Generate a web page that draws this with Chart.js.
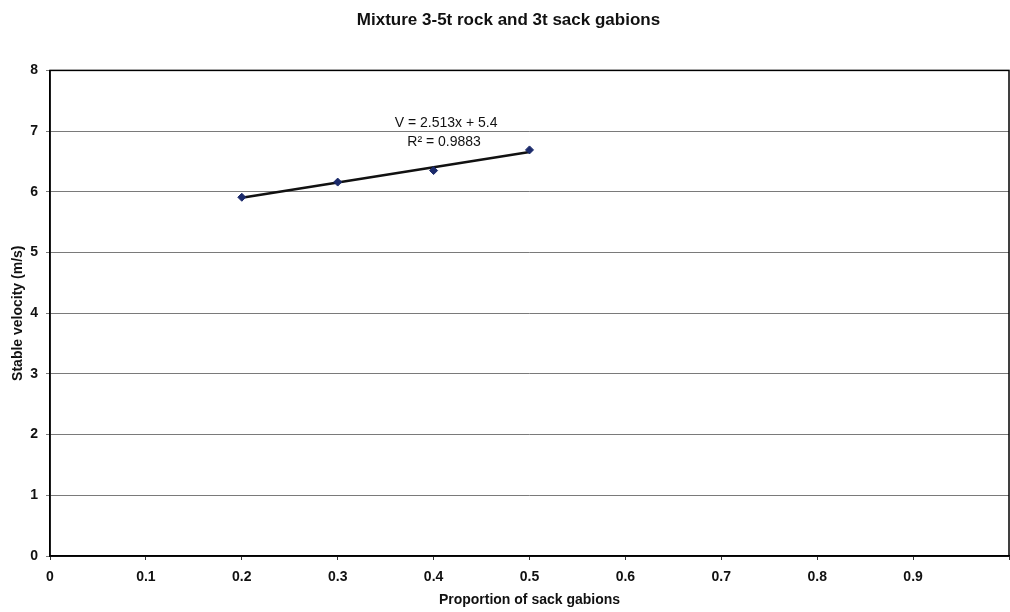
<!DOCTYPE html>
<html>
<head>
<meta charset="utf-8">
<script src="https://cdn.jsdelivr.net/npm/chart.js@4.4.1/dist/chart.umd.min.js"></script>
<style>
  html, body { margin: 0; padding: 0; background: #fff; overflow: hidden; }
  #wrap { width: 1010px; height: 612px; position: relative; overflow: hidden; }
</style>
</head>
<body>
<div id="wrap"><canvas id="c" width="1018" height="612"></canvas></div>
<script>
// Measured stability of mixed rock / sack gabion protection
const proportions = [0.2, 0.3, 0.4, 0.5];
const velocities = [5.91, 6.16, 6.35, 6.69];

// Linear trendline as reported on the chart
const trendSlope = 2.513;
const trendIntercept = 5.4;
const trendLabel = ['V = 2.513x + 5.4', 'R\u00B2 = 0.9883'];

const xTicks = [0, 0.1, 0.2, 0.3, 0.4, 0.5, 0.6, 0.7, 0.8, 0.9, 1];
const yTicks = [0, 1, 2, 3, 4, 5, 6, 7, 8];

const FONT = "'Liberation Sans', Arial, sans-serif";

const points = proportions.map((x, i) => ({ x, y: velocities[i] }));
const xStart = Math.min(...proportions), xEnd = Math.max(...proportions);
const trend = [xStart, xEnd].map(x => ({ x, y: trendSlope * x + trendIntercept }));

// Frames the plot area and writes the trendline equation beside the line
const framePlugin = {
  id: 'frame',
  afterDatasetsDraw(chart) {
    const { ctx, chartArea: a, scales } = chart;
    ctx.save();
    ctx.strokeStyle = '#000';
    ctx.lineWidth = 1.5;
    ctx.strokeRect(a.left, a.top, a.right - a.left, a.bottom - a.top);
    ctx.fillStyle = '#111';
    ctx.font = '14px ' + FONT;
    ctx.textAlign = 'center';
    ctx.textBaseline = 'middle';
    const cx = scales.x.getPixelForValue(0.413);
    ctx.fillText(trendLabel[0], cx, scales.y.getPixelForValue(7.13));
    ctx.fillText(trendLabel[1], cx - 2, scales.y.getPixelForValue(6.82));
    ctx.restore();
  }
};

new Chart(document.getElementById('c'), {
  type: 'scatter',
  data: {
    datasets: [
      {
        label: 'Trendline',
        data: trend,
        showLine: true,
        borderColor: '#111',
        borderWidth: 2.5,
        pointRadius: 0,
        order: 2
      },
      {
        label: 'Stable velocity',
        data: points,
        pointStyle: 'rectRot',
        pointRadius: 4,
        backgroundColor: '#1b2a6b',
        borderColor: '#1b2a6b',
        borderWidth: 1,
        order: 1
      }
    ]
  },
  options: {
    responsive: false,
    animation: false,
    layout: { padding: { top: 4, right: 1, left: 0, bottom: 0 } },
    plugins: {
      legend: { display: false },
      tooltip: { enabled: false },
      title: {
        display: true,
        text: 'Mixture 3-5t rock and 3t sack gabions',
        color: '#111',
        font: { family: FONT, size: 17, weight: 'bold' },
        padding: { top: 6, bottom: 40 }
      }
    },
    scales: {
      x: {
        type: 'linear',
        min: 0,
        max: 1,
        afterBuildTicks(scale) { scale.ticks = xTicks.map(v => ({ value: v })); },
        afterFit(scale) { scale.height = 56; },
        ticks: {
          color: '#111',
          font: { family: FONT, size: 14, weight: 'bold' },
          padding: 9,
          maxRotation: 0,
          callback: v => (v === 1 ? '' : String(v))
        },
        grid: { drawOnChartArea: false, drawTicks: true, tickLength: 4, color: '#333' },
        border: { display: true, color: '#000', width: 1.5 },
        title: {
          display: true,
          text: 'Proportion of sack gabions',
          color: '#111',
          font: { family: FONT, size: 14, weight: 'bold' },
          padding: { top: 0, bottom: 3 }
        }
      },
      y: {
        type: 'linear',
        min: 0,
        max: 8,
        afterBuildTicks(scale) { scale.ticks = yTicks.map(v => ({ value: v })); },
        afterFit(scale) { scale.width = 50; },
        ticks: {
          color: '#111',
          font: { family: FONT, size: 14, weight: 'bold' },
          padding: 8
        },
        grid: { color: '#7a7a7a', lineWidth: 1, tickLength: 4 },
        border: { display: true, color: '#000', width: 1.5 },
        title: {
          display: true,
          text: 'Stable velocity (m/s)',
          color: '#111',
          font: { family: FONT, size: 14, weight: 'bold' },
          padding: { top: 10, bottom: 0 }
        }
      }
    }
  },
  plugins: [framePlugin]
});
</script>
</body>
</html>
